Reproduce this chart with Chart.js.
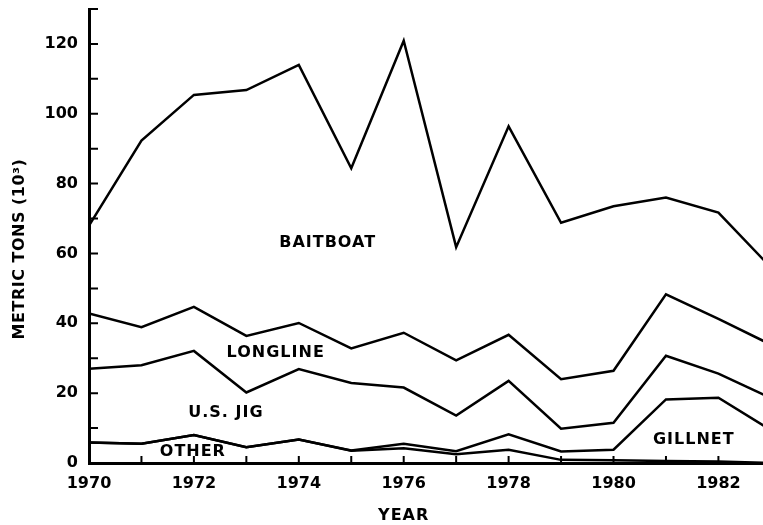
<!DOCTYPE html>
<html>
<head>
<meta charset="utf-8">
<script src="https://cdn.jsdelivr.net/npm/chart.js@4"></script>
<style>
  html, body { margin: 0; padding: 0; background: #fff; }
  #wrap { width: 763px; height: 525px; }
</style>
</head>
<body>
<div id="wrap"><canvas id="catchChart"></canvas></div>
<script>
// Catch by gear, 10^3 metric tons (stacked from the bottom up)
const years = [1970, 1971, 1972, 1973, 1974, 1975, 1976, 1977, 1978, 1979, 1980, 1981, 1982, 1983];
const other    = [5.9, 5.5, 8.0, 4.5, 6.7, 3.5, 4.2, 2.5, 3.8, 0.9, 0.8, 0.6, 0.4, 0.0];
const gillnet  = [0, 0, 0, 0, 0, 0.1, 1.3, 0.9, 4.4, 2.4, 3.0, 17.6, 18.3, 9.4];
const usJig    = [21.1, 22.5, 24.1, 15.7, 20.2, 19.3, 16.1, 10.2, 15.3, 6.5, 7.7, 12.5, 6.9, 9.2];
const longline = [15.8, 10.9, 12.6, 16.2, 13.2, 9.9, 15.7, 15.8, 13.2, 14.2, 14.9, 17.6, 15.7, 15.3];
const baitboat = [25.2, 53.4, 60.7, 70.4, 73.9, 51.6, 83.6, 32.4, 59.7, 44.8, 47.1, 27.7, 30.4, 22.1];

const xTicks = [1970, 1971, 1972, 1973, 1974, 1975, 1976, 1977, 1978, 1979, 1980, 1981, 1982];
const yTicks = [0, 10, 20, 30, 40, 50, 60, 70, 80, 90, 100, 110, 120, 130];

// area labels: [text, year, value]
const areaLabels = [
  ['BAITBOAT', 1974.55, 63],
  ['LONGLINE', 1973.56, 31.4],
  ['U.S. JIG', 1972.61, 14.3],
  ['OTHER', 1971.98, 3.2],
  ['GILLNET', 1981.53, 6.6],
];

const font = 'bold 16px "DejaVu Sans"';

function series(label, values) {
  return {
    label: label,
    data: years.map((y, i) => ({ x: y, y: values[i] })),
    borderColor: '#000',
    borderWidth: 2.5,
    pointRadius: 0,
    fill: false,
    tension: 0,
  };
}

const data = {
  datasets: [
    series('Other', other),
    series('Gillnet', gillnet),
    series('U.S. Jig', usJig),
    series('Longline', longline),
    series('Baitboat', baitboat),
  ]
};

const decorations = {
  id: 'decorations',
  afterDraw: (chart) => {
    const { ctx, chartArea, scales } = chart;
    const { left, bottom } = chartArea;
    ctx.save();
    ctx.strokeStyle = '#000';
    ctx.lineWidth = 2;
    // inside tick marks
    ctx.beginPath();
    xTicks.forEach(v => {
      const x = scales.x.getPixelForValue(v);
      ctx.moveTo(x, bottom);
      ctx.lineTo(x, bottom - 7);
    });
    yTicks.forEach(v => {
      const y = scales.y.getPixelForValue(v);
      ctx.moveTo(left, y);
      ctx.lineTo(left + 9, y);
    });
    ctx.stroke();

    ctx.fillStyle = '#000';
    ctx.font = font;
    ctx.letterSpacing = '1px';
    ctx.textAlign = 'center';
    ctx.textBaseline = 'middle';
    areaLabels.forEach(([text, x, y]) => {
      ctx.fillText(text, scales.x.getPixelForValue(x), scales.y.getPixelForValue(y));
    });

    // axis titles
    ctx.fillText('YEAR', scales.x.getPixelForValue(1976), 516);
    ctx.translate(20, 249);
    ctx.rotate(-Math.PI / 2);
    ctx.letterSpacing = '0.5px';
    ctx.fillText('METRIC TONS (10³)', 0, 0);
    ctx.restore();
  }
};

const options = {
  responsive: true,
  maintainAspectRatio: false,
  animation: false,
  layout: { padding: { top: 9, right: 0, left: 0, bottom: 0 } },
  plugins: {
    legend: { display: false },
    tooltip: { enabled: false },
  },
  scales: {
    x: {
      type: 'linear',
      min: 1970,
      max: 1982.85,
      grid: { display: false, drawTicks: false },
      border: { display: true, color: '#000', width: 3 },
      afterBuildTicks: scale => { scale.ticks = xTicks.map(v => ({ value: v })); },
      afterFit: scale => {
        scale.height = 62;
        scale.paddingLeft = 0;
        scale.paddingRight = 0;
      },
      ticks: {
        color: '#000',
        font: { family: 'DejaVu Sans', size: 16, weight: 'bold' },
        padding: 11,
        maxRotation: 0,
        autoSkip: false,
        callback: v => (v % 2 === 0 ? String(v) : ''),
      },
    },
    y: {
      stacked: true,
      min: 0,
      max: 130,
      grid: { display: false, drawTicks: false },
      border: { display: true, color: '#000', width: 3 },
      afterBuildTicks: scale => { scale.ticks = yTicks.map(v => ({ value: v })); },
      afterFit: scale => {
        scale.width = 89;
        scale.paddingTop = 0;
        scale.paddingBottom = 0;
      },
      ticks: {
        color: '#000',
        font: { family: 'DejaVu Sans', size: 16, weight: 'bold' },
        padding: 11,
        autoSkip: false,
        callback: v => (v % 20 === 0 && v <= 120 ? String(v) : ''),
      },
    }
  }
};

const catchChart = new Chart(document.getElementById('catchChart'), {
  type: 'line',
  data: data,
  options: options,
  plugins: [decorations]
});
</script>
</body>
</html>
